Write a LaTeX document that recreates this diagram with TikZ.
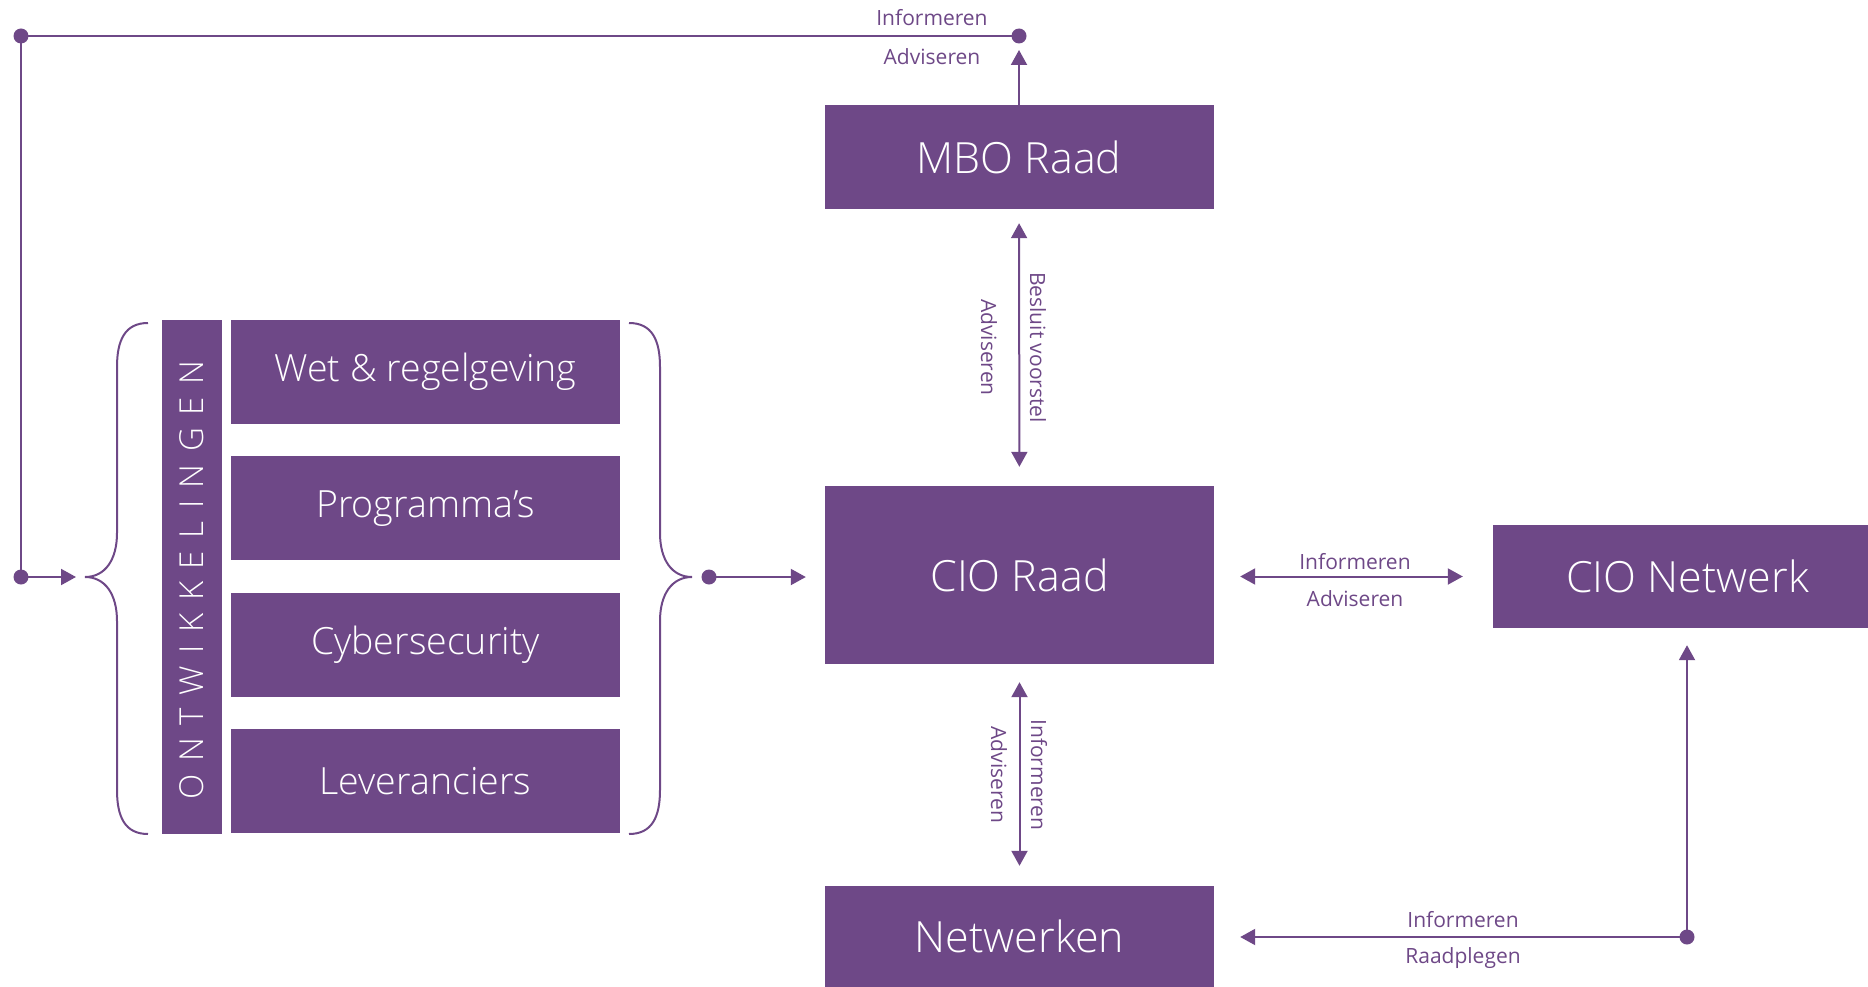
\documentclass[tikz,border=0pt]{standalone}
\usepackage{fontspec}
\setmainfont{Open Sans}
\newfontfamily\lightfont{Open Sans Light}
\usetikzlibrary{arrows.meta}
\usetikzlibrary{positioning}
\definecolor{paars}{RGB}{110,72,135}

\begin{document}
\begin{tikzpicture}[x=1pt,y=-1pt,
  blok/.style={rectangle,fill=paars,text=white,inner sep=0pt,minimum width=389pt,minimum height=104pt,font=\lightfont\fontsize{43}{50}\selectfont},
  thema/.style={blok,font=\lightfont\fontsize{37.5}{45}\selectfont},
  lbl/.style={text=paars,inner sep=0pt,font=\fontsize{21}{25}\selectfont},
  lijn/.style={draw=paars,line width=2pt},
  pijl/.style={lijn,-{Triangle[length=15pt,width=16pt]}},
  dpijl/.style={lijn,{Triangle[length=15pt,width=16pt]}-{Triangle[length=15pt,width=16pt]}},
  punt/.style={fill=paars}]
\useasboundingbox (0,0) rectangle (1868,987);

\node[blok] (mbo) at (1019,157) {MBO Raad};
\node[blok,minimum height=178pt] (cio) at (1019.5,575) {CIO Raad};
\node[blok,minimum height=101pt] (netw) at (1019.5,936.5) {Netwerken};
\node[blok,minimum height=103pt] (net) at (1687.5,576.5) {CIO Netwerk};

\node[thema] (wet) at (425.5,372) {Wet \& regelgeving};
\node[thema,below=32pt of wet] (prog) {Programma’s};
\node[thema,below=32pt of prog] (cyber) {Cybersecurity};
\node[thema,below=32pt of cyber] (lev) {Leveranciers};
\node[rectangle,fill=paars,text=white,inner sep=0pt,minimum width=60pt,minimum height=514pt] (bar) at (192,577) {};
\node[text=white,rotate=90,font=\lightfont\fontsize{33}{40}\selectfont\addfontfeature{LetterSpace=38}] (ontw) at (192,580) {ONTWIKKELINGEN};

\draw[lijn] (148,323) .. controls (125,323) and (117,340) .. (117,367) -- (117,533) .. controls (117,560) and (105,577) .. (85,577) .. controls (105,577) and (117,594) .. (117,621) -- (117,790) .. controls (117,817) and (125,834) .. (148,834);
\draw[lijn] (629,323) .. controls (652,323) and (660,340) .. (660,367) -- (660,533) .. controls (660,560) and (672,577) .. (692,577) .. controls (672,577) and (660,594) .. (660,621) -- (660,790) .. controls (660,817) and (652,834) .. (629,834);

\coordinate (tl) at (21,36);
\coordinate (tr) at (1019,36);
\coordinate (ld) at (21,577);
\coordinate (lbrace) at (85,577);
\coordinate (rbrace) at (692,577);
\coordinate (rd) at (709,577);
\coordinate (bd) at (1687,937);

\draw[lijn] (tr) -- (tl) -- (ld);
\draw[pijl,shorten >=14pt] (mbo) -- (tr);
\draw[pijl,shorten >=9pt] (ld) -- (lbrace);
\draw[pijl,shorten >=19pt] (rd) -- (rd -| cio.west);
\draw[dpijl,shorten <=14pt,shorten >=19pt] (mbo) -- (cio);
\draw[dpijl,shorten <=26pt,shorten >=30pt] (cio.east |- net.west) -- (net.west);
\draw[dpijl,shorten <=18pt,shorten >=20pt] (cio) -- (netw);
\draw[pijl,shorten >=17pt] (bd) -- (bd |- net.south);
\draw[pijl,shorten >=26pt] (bd) -- (bd -| netw.east);
\foreach \p in {tl,tr,ld,rd,bd}
  \fill[punt] (\p) circle[radius=7.5pt];

\node[lbl] (t1) at (932,18) {Informeren};
\node[lbl] (t2) at (932,57) {Adviseren};
\node[lbl,rotate=-90] (m1) at (1038,347.5) {Besluit voorstel};
\node[lbl,rotate=-90] (m2) at (989,347.5) {Adviseren};
\node[lbl] (c1) at (1355,562) {Informeren};
\node[lbl] (c2) at (1355,599) {Adviseren};
\node[lbl,rotate=-90] (n1) at (1039,775) {Informeren};
\node[lbl,rotate=-90] (n2) at (999,775) {Adviseren};
\node[lbl] (b1) at (1463,920) {Informeren};
\node[lbl] (b2) at (1463,958) {Raadplegen};
\end{tikzpicture}
\end{document}
